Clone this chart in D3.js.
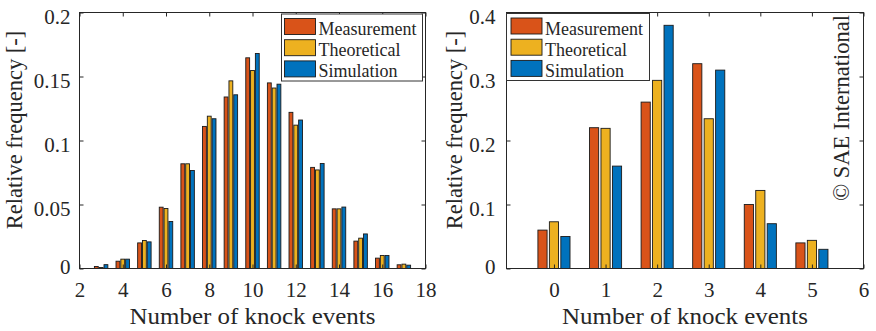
<!DOCTYPE html>
<html>
<head>
<meta charset="utf-8">
<script src="https://cdn.jsdelivr.net/npm/d3@7"></script>
<style>
  html, body { margin: 0; padding: 0; background: #fff; }
  svg { display: block; }
  text { font-family: "Liberation Serif", "Times New Roman", serif; fill: #262626; }
</style>
</head>
<body>
<svg id="chart" width="876" height="331" font-family="Liberation Serif"></svg>
<script>
// Left panel: distribution of knock events per cycle window
const leftCounts = [3, 4, 5, 6, 7, 8, 9, 10, 11, 12, 13, 14, 15, 16, 17];
const leftMeasurement = [0.0016, 0.0057, 0.0200, 0.0479, 0.0818, 0.111, 0.134, 0.1646, 0.145, 0.122, 0.079, 0.0466, 0.0214, 0.0081, 0.0029];
const leftTheoretical = [0.0008, 0.0073, 0.0219, 0.0469, 0.0818, 0.119, 0.1466, 0.1547, 0.141, 0.112, 0.077, 0.0466, 0.0237, 0.0102, 0.0034];
const leftSimulation  = [0.0030, 0.0073, 0.0208, 0.0367, 0.0766, 0.117, 0.1357, 0.168, 0.144, 0.116, 0.082, 0.048, 0.027, 0.0102, 0.0026];
const leftXTicks = [2, 4, 6, 8, 10, 12, 14, 16, 18];
const leftYTicks = [0, 0.05, 0.1, 0.15, 0.2];
const leftYTickLabels = ["0", "0.05", "0.1", "0.15", "0.2"];

// Right panel
const rightCounts = [0, 1, 2, 3, 4, 5];
const rightMeasurement = [0.06, 0.22, 0.26, 0.32, 0.10, 0.04];
const rightTheoretical = [0.073, 0.219, 0.294, 0.234, 0.122, 0.044];
const rightSimulation  = [0.05, 0.16, 0.38, 0.31, 0.07, 0.03];
const rightXTicks = [0, 1, 2, 3, 4, 5, 6];
const rightYTicks = [0, 0.1, 0.2, 0.3, 0.4];
const rightYTickLabels = ["0", "0.1", "0.2", "0.3", "0.4"];

const seriesNames = ["Measurement", "Theoretical", "Simulation"];
const seriesColors = ["#D95319", "#EDB120", "#0072BD"];

const xLabel = "Number of knock events";
const yLabel = "Relative frequency [-]";
const copyright = "\u00A9 SAE International";

const FONT = "Liberation Serif";
const svg = d3.select("#chart");

function drawPanel(cfg) {
  const g = svg.append("g");
  const x = d3.scaleLinear().domain(cfg.xDomain).range([cfg.left, cfg.right]);
  const y = d3.scaleLinear().domain(cfg.yDomain).range([cfg.bottom, cfg.top]);
  const unit = x(1) - x(0);
  const offset = 2 / 9;          // grouped-bar spacing (3 series)
  const barW = 0.8 * offset;     // bar width in data units

  // bars
  cfg.series.forEach((vals, si) => {
    g.append("g").selectAll("rect")
      .data(cfg.cats.map((c, i) => ({ c, v: vals[i] })))
      .join("rect")
      .attr("x", d => x(d.c + (si - 1) * offset) - barW * unit / 2)
      .attr("y", d => y(d.v))
      .attr("width", barW * unit)
      .attr("height", d => y(0) - y(d.v))
      .attr("fill", seriesColors[si])
      .attr("stroke", "#1a1a1a")
      .attr("stroke-width", 0.9);
  });

  // axes (ticks pointing inward on all four sides)
  const tl = 4;
  const axB = g.append("g").attr("transform", `translate(0,${cfg.bottom})`)
    .call(d3.axisBottom(x).tickValues(cfg.xTicks).tickSize(-tl).tickSizeOuter(0).tickFormat(d3.format("d")));
  const axT = g.append("g").attr("transform", `translate(0,${cfg.top})`)
    .call(d3.axisTop(x).tickValues(cfg.xTicks).tickSize(-tl).tickSizeOuter(0).tickFormat(""));
  const axL = g.append("g").attr("transform", `translate(${cfg.left},0)`)
    .call(d3.axisLeft(y).tickValues(cfg.yTicks).tickSize(-tl).tickSizeOuter(0)
      .tickFormat((d, i) => cfg.yTickLabels[i]));
  const axR = g.append("g").attr("transform", `translate(${cfg.right},0)`)
    .call(d3.axisRight(y).tickValues(cfg.yTicks).tickSize(-tl).tickSizeOuter(0).tickFormat(""));

  [axB, axT, axL, axR].forEach(a => {
    a.attr("font-family", FONT);
    a.select(".domain").remove();
    a.selectAll(".tick line").attr("stroke", "#262626");
  });

  axB.selectAll(".tick text")
    .attr("y", 0).attr("dy", null)
    .attr("transform", "translate(0,28)")
    .attr("font-family", FONT)
    .style("font-size", "21px").attr("fill", "#262626");

  axL.selectAll(".tick text")
    .attr("x", -cfg.yLabelGap).attr("dy", null)
    .attr("y", d => Math.min(10.5, cfg.bottom + 4.5 - y(d)))
    .attr("font-family", FONT)
    .style("font-size", "21px").attr("fill", "#262626");

  // box
  g.append("rect")
    .attr("x", cfg.left).attr("y", cfg.top)
    .attr("width", cfg.right - cfg.left).attr("height", cfg.bottom - cfg.top)
    .attr("fill", "none").attr("stroke", "#262626").attr("stroke-width", 1);

  // axis titles
  g.append("text")
    .attr("x", (cfg.left + cfg.right) / 2).attr("y", 324)
    .attr("text-anchor", "middle")
    .attr("font-family", FONT)
    .style("font-size", "23px")
    .attr("textLength", 246).attr("lengthAdjust", "spacingAndGlyphs")
    .text(xLabel);

  g.append("text")
    .attr("transform", `translate(${cfg.yTitleX},130) rotate(-90)`)
    .attr("text-anchor", "middle")
    .attr("font-family", FONT)
    .style("font-size", "22.5px")
    .text(yLabel);

  // legend
  const lg = g.append("g");
  lg.append("rect")
    .attr("x", cfg.legend.x).attr("y", cfg.legend.y)
    .attr("width", cfg.legend.w).attr("height", cfg.legend.h)
    .attr("fill", "#fff").attr("stroke", "#333").attr("stroke-width", 1);
  seriesNames.forEach((name, i) => {
    const sy = cfg.legend.y + 4.5 + i * 21.2;
    lg.append("rect")
      .attr("x", cfg.legend.x + cfg.legend.pad).attr("y", sy)
      .attr("width", 31).attr("height", 16)
      .attr("fill", seriesColors[i]).attr("stroke", "#1a1a1a").attr("stroke-width", 0.9);
    lg.append("text")
      .attr("x", cfg.legend.x + cfg.legend.pad + 34).attr("y", sy + 16.5)
      .attr("font-family", FONT)
      .style("font-size", "18px")
      .attr("fill", "#000")
      .text(name);
  });
  return { g, x, y };
}

drawPanel({
  left: 79.5, right: 425.5, top: 12.5, bottom: 268.5,
  xDomain: [2, 18], yDomain: [0, 0.2],
  cats: leftCounts,
  series: [leftMeasurement, leftTheoretical, leftSimulation],
  xTicks: leftXTicks, yTicks: leftYTicks, yTickLabels: leftYTickLabels,
  yLabelGap: 9, yTitleX: 22,
  legend: { x: 281.5, y: 14, w: 141, h: 67, pad: 3 }
});

drawPanel({
  left: 506.5, right: 863.5, top: 12.5, bottom: 268.5,
  xDomain: [-0.92, 6], yDomain: [0, 0.4],
  cats: rightCounts,
  series: [rightMeasurement, rightTheoretical, rightSimulation],
  xTicks: rightXTicks, yTicks: rightYTicks, yTickLabels: rightYTickLabels,
  yLabelGap: 11, yTitleX: 462,
  legend: { x: 506.5, y: 13.5, w: 143, h: 67, pad: 4.5 }
});

// copyright notice inside the right panel
svg.append("text")
  .attr("transform", "translate(849,108) rotate(-90)")
  .attr("text-anchor", "middle")
  .attr("font-family", FONT)
  .style("font-size", "22.5px")
  .attr("fill", "#111")
  .text(copyright);
</script>
</body>
</html>
